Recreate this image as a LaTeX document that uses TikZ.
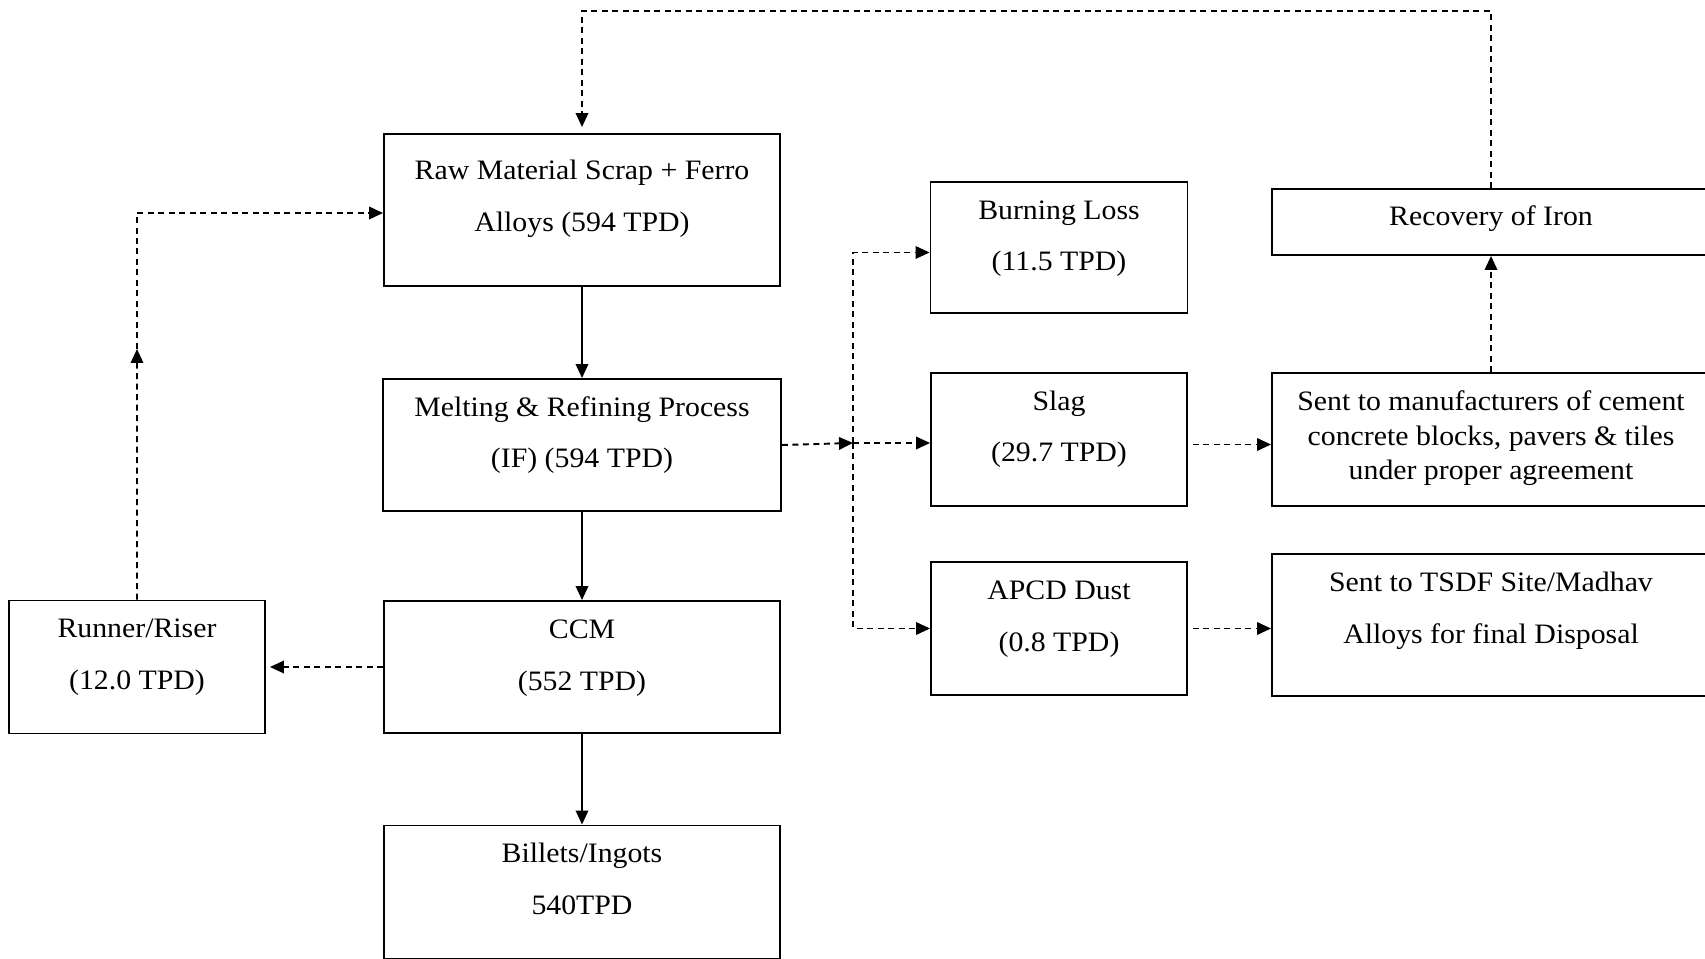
\documentclass[tikz,border=0pt]{standalone}
\usepackage{fontspec}
\setmainfont[FakeStretch=1.06]{Liberation Serif}
\usepackage{tikz}
\usetikzlibrary{shapes,arrows,positioning,calc,arrows.meta}

\tikzset{
  flowbox/.style={rectangle, draw, line width=1.1pt, inner sep=0pt, align=center,
    font=\fontsize{16}{29.5}\selectfont, text height=1.78cm},
  dashline/.style={line width=1.1pt, dash pattern=on 0.12cm off 0.09cm},
  solidline/.style={line width=1.1pt}
}

\begin{document}
\begin{tikzpicture}[node distance=2cm, auto, >={Triangle[length=0.28cm,width=0.25cm]}]
\useasboundingbox (0,0) rectangle (34.1,-19.18);

% main column
\node (raw) [flowbox, minimum width=7.92cm, text height=1.955cm, text depth=1.085cm] at (11.64,-4.20) {Raw Material Scrap + Ferro\\Alloys (594 TPD)};
\node (melt) [flowbox, minimum width=7.96cm, text depth=0.86cm, below of=raw, node distance=4.70cm] {Melting \& Refining Process\\(IF) (594 TPD)};
\node (ccm) [flowbox, minimum width=7.92cm, text depth=0.86cm, below of=melt, node distance=4.44cm] {CCM\\(552 TPD)};
\node (billets) [flowbox, minimum width=7.92cm, text depth=0.88cm, below of=ccm, node distance=4.50cm] {Billets/Ingots\\540TPD};
\node (runner) [flowbox, minimum width=5.12cm, text depth=0.88cm, left of=ccm, node distance=8.90cm] {Runner/Riser\\(12.0 TPD)};

% by-products
\node (slag) [flowbox, minimum width=5.12cm, text depth=0.88cm] at (21.18,-8.79) {Slag\\(29.7 TPD)};
\node (burn) [flowbox, minimum width=5.14cm, text depth=0.84cm, above of=slag, node distance=3.84cm] {Burning Loss\\(11.5 TPD)};
\node (apcd) [flowbox, minimum width=5.12cm, text depth=0.88cm, below of=slag, node distance=3.78cm] {APCD Dust\\(0.8 TPD)};

% disposal
\node (manuf) [flowbox, minimum width=8.76cm, text height=2.14cm, text depth=0.52cm, font=\fontsize{16}{19.9}\selectfont, right of=slag, node distance=8.64cm] {Sent to manufacturers of cement\\concrete blocks, pavers \& tiles\\under proper agreement};
\node (recov) [flowbox, minimum width=8.76cm, text height=0.74cm, text depth=0.58cm, above of=manuf, node distance=4.35cm] {Recovery of Iron};
\node (tsdf) [flowbox, minimum width=8.76cm, text depth=1.06cm, below of=manuf, node distance=3.71cm] {Sent to TSDF Site/Madhav\\Alloys for final Disposal};

\coordinate (junc) at (17.06,-8.86);
\coordinate (runmid) at (2.74,-6.98);
\coordinate (looptop) at (20,-0.22);

\draw [solidline, ->] (raw) -- (melt);
\draw [solidline, ->] (melt) -- (ccm);
\draw [solidline, ->] (ccm) -- (billets);

\draw [dashline, ->, shorten >=0.08cm] (ccm.west) -- (ccm.west -| runner.east);
\draw [dashline, ->] (runner.north) -- (runmid);
\draw [dashline, ->] (runmid) |- ([yshift=-0.06cm]raw.west);

\draw [dashline, ->] (melt.east) -- (junc);
\draw [dashline, ->] (junc) |- ([yshift=-0.1cm]burn.west);
\draw [dashline, ->] (junc) -- (junc -| slag.west);
\draw [dashline, ->] (junc) |- (apcd.west);

\draw [dashline, ->, shorten <=0.1cm] ([yshift=-0.1cm]slag.east) -- ([yshift=-0.1cm]slag.east -| manuf.west);
\draw [dashline, ->, shorten <=0.1cm] (apcd.east) -- (apcd.east -| tsdf.west);
\draw [dashline, ->] (manuf.north) -- (recov.south);
\draw [dashline, ->, shorten >=0.12cm] (recov.north) |- (looptop) -| (raw.north);
\end{tikzpicture}
\end{document}
